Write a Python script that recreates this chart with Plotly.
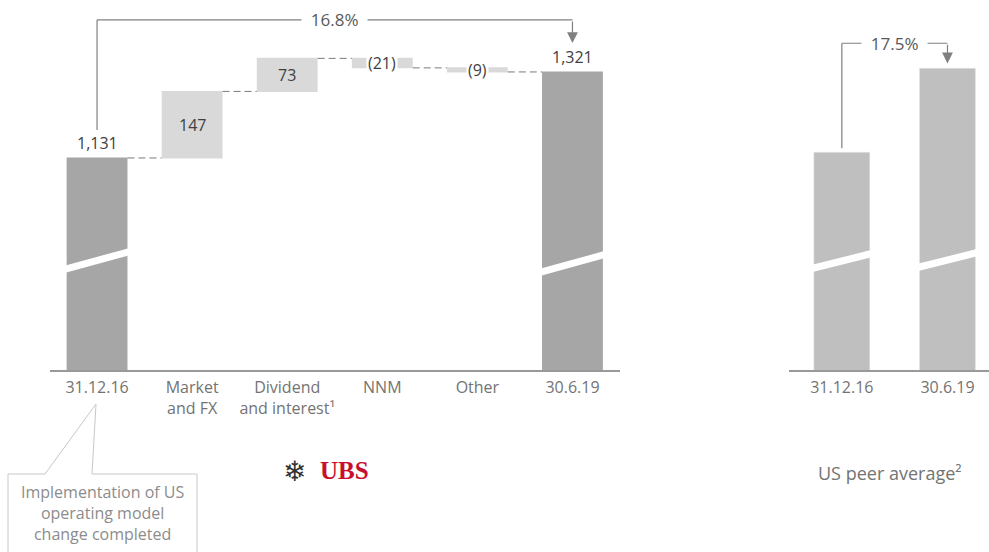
import plotly.graph_objects as go

# Invested assets bridge (USD bn)
categories = ["31.12.16", "Market<br>and FX", "Dividend<br>and interest¹", "NNM", "Other", "30.6.19"]
measures = ["absolute", "relative", "relative", "relative", "relative", "total"]
values = [1131, 147, 73, -21, -9, 0]

# US peer average, indexed to 31.12.16 = 100
peer_categories = ["31.12.16", "30.6.19"]
peer_values = [100.0, 117.5]

W, H = 989, 552
FONT = "Open Sans"
TOTAL_COL = "#a6a6a6"
DELTA_COL = "#d9d9d9"
PEER_COL = "#bfbfbf"
LINE_COL = "#808080"


def px(x):
    return x / W


def py(y):
    return 1 - y / H


# running totals used for the labels
running = []
acc = 0
for m, v in zip(measures, values):
    if m == "absolute":
        acc = v
    elif m == "relative":
        acc += v
    running.append(acc)
start_total = running[0]
end_total = running[-1]

fig = go.Figure()

fig.add_trace(go.Waterfall(
    x=categories, y=values, measure=measures,
    width=0.64,
    totals=dict(marker=dict(color=TOTAL_COL)),
    increasing=dict(marker=dict(color=DELTA_COL)),
    decreasing=dict(marker=dict(color=DELTA_COL)),
    connector=dict(mode="between", line=dict(color="#7a7a7a", width=1, dash="7px,4px")),
    textinfo="none", hoverinfo="skip",
    xaxis="x", yaxis="y", showlegend=False,
))

fig.add_trace(go.Bar(
    x=peer_categories, y=peer_values, width=0.53,
    marker=dict(color=PEER_COL), hoverinfo="skip",
    xaxis="x2", yaxis="y2", showlegend=False,
))

annotations = []
shapes = []

# value labels on the bridge
prev = 0
for i, (m, v) in enumerate(zip(measures, values)):
    if m in ("absolute", "total"):
        tot = running[i]
        annotations.append(dict(x=categories[i], y=tot, xref="x", yref="y",
                                text=f"{tot:,}", showarrow=False, yanchor="bottom", yshift=2,
                                font=dict(family=FONT, size=16, color="#404040")))
    else:
        mid = prev + v / 2
        txt = f"{v:,}" if v >= 0 else f"({abs(v):,})"
        annotations.append(dict(x=categories[i], y=mid, xref="x", yref="y",
                                text=txt, showarrow=False,
                                bgcolor="white" if v < 0 else None, borderpad=1,
                                font=dict(family=FONT, size=16, color="#404040")))
    prev = running[i]

# growth bracket on the bridge
growth = (end_total / start_total - 1) * 100
BR_Y = 1436
shapes.append(dict(type="line", xref="x", yref="y", x0=0, x1=0, y0=start_total + 62, y1=BR_Y,
                   line=dict(color=LINE_COL, width=1.2)))
shapes.append(dict(type="line", xref="x", yref="y", x0=0, x1=5, y0=BR_Y, y1=BR_Y,
                   line=dict(color=LINE_COL, width=1.2)))
annotations.append(dict(x=2.5, y=BR_Y, xref="x", yref="y", text=f"\u00a0\u00a0{growth:.1f}%\u00a0\u00a0",
                        showarrow=False, bgcolor="white", borderpad=0,
                        font=dict(family=FONT, size=17, color="#595959")))
annotations.append(dict(x=5, y=end_total + 64, xref="x", yref="y", ax=5, ay=BR_Y,
                        axref="x", ayref="y", text="", showarrow=True, arrowhead=2,
                        arrowsize=1.8, arrowwidth=1.2, arrowcolor=LINE_COL))

# growth bracket on the peer chart
p_growth = (peer_values[1] / peer_values[0] - 1) * 100
PBR_Y = 122.7
shapes.append(dict(type="line", xref="x2", yref="y2", x0=0, x1=0, y0=peer_values[0] + 0.8, y1=PBR_Y,
                   line=dict(color=LINE_COL, width=1.2)))
shapes.append(dict(type="line", xref="x2", yref="y2", x0=0, x1=1, y0=PBR_Y, y1=PBR_Y,
                   line=dict(color=LINE_COL, width=1.2)))
annotations.append(dict(x=0.5, y=PBR_Y, xref="x2", yref="y2", text=f"\u00a0\u00a0{p_growth:.1f}%\u00a0\u00a0",
                        showarrow=False, bgcolor="white", borderpad=0,
                        font=dict(family=FONT, size=17, color="#595959")))
annotations.append(dict(x=1, y=peer_values[1] + 1.0, xref="x2", yref="y2", ax=1, ay=PBR_Y,
                        axref="x2", ayref="y2", text="", showarrow=True, arrowhead=2,
                        arrowsize=1.8, arrowwidth=1.2, arrowcolor=LINE_COL))

# axis-break marks across the tall bars
breaks = [("x", "y domain", 0, 0.2784, 0.3368),
          ("x", "y domain", 5, 0.2697, 0.3287),
          ("x2", "y2 domain", 0, 0.2802, 0.3322),
          ("x2", "y2 domain", 1, 0.2830, 0.3350)]
for xr, yr, xi, ya, yb in breaks:
    half = 0.4 if xr == "x" else 0.35
    shapes.append(dict(type="line", xref=xr, yref=yr, x0=xi - half, x1=xi + half, y0=ya, y1=yb,
                       line=dict(color="white", width=7), layer="above"))

# callout box
path = (f"M {px(8)},{py(560)} L {px(8)},{py(474)} L {px(45)},{py(474)} L {px(96)},{py(404)} "
        f"L {px(92)},{py(474)} L {px(197)},{py(474)} L {px(197)},{py(560)}")
shapes.append(dict(type="path", xref="paper", yref="paper", path=path,
                   line=dict(color="#c8c8c8", width=1)))
annotations.append(dict(x=px(102), y=py(513), xref="paper", yref="paper",
                        text="Implementation of US<br>operating model<br>change completed",
                        xanchor="center", yanchor="middle", align="center", showarrow=False,
                        font=dict(family=FONT, size=16, color="#8c8c8c")))

# chart captions
annotations.append(dict(x=px(294), y=py(471), xref="paper", yref="paper", text="❄", showarrow=False,
                        xanchor="center", yanchor="middle",
                        font=dict(family="DejaVu Sans", size=28, color="#333333")))
annotations.append(dict(x=px(344), y=py(470), xref="paper", yref="paper", text="<b>UBS</b>", showarrow=False,
                        xanchor="center", yanchor="middle",
                        font=dict(family="Liberation Serif", size=25, color="#c8102e")))
annotations.append(dict(x=px(890), y=py(473), xref="paper", yref="paper", text="US peer average²",
                        xanchor="center", yanchor="middle",
                        showarrow=False, font=dict(family=FONT, size=18, color="#737373")))

y_dom = [py(370), py(14)]
fig.update_layout(
    width=W, height=H,
    margin=dict(l=0, r=0, t=0, b=0),
    paper_bgcolor="white", plot_bgcolor="white",
    font=dict(family=FONT),
    xaxis=dict(domain=[px(49.5), px(620)], range=[-0.5, 5.5], showline=True, linecolor="#999999",
               linewidth=2, ticks="", showgrid=False, zeroline=False, fixedrange=True,
               ticklabelstandoff=2,
               tickfont=dict(family=FONT, size=16, color="#737373")),
    yaxis=dict(domain=y_dom, range=[662.6, 1449], visible=False, fixedrange=True),
    xaxis2=dict(domain=[px(789), 1], range=[-0.5, 1.393], showline=True, linecolor="#999999",
                linewidth=2, ticks="", showgrid=False, zeroline=False, fixedrange=True,
                ticklabelstandoff=2,
                anchor="y2", tickfont=dict(family=FONT, size=16, color="#737373")),
    yaxis2=dict(domain=y_dom, range=[54.6, 128.8], visible=False, fixedrange=True, anchor="x2"),
    annotations=annotations, shapes=shapes,
)

fig.write_html("out.html")
